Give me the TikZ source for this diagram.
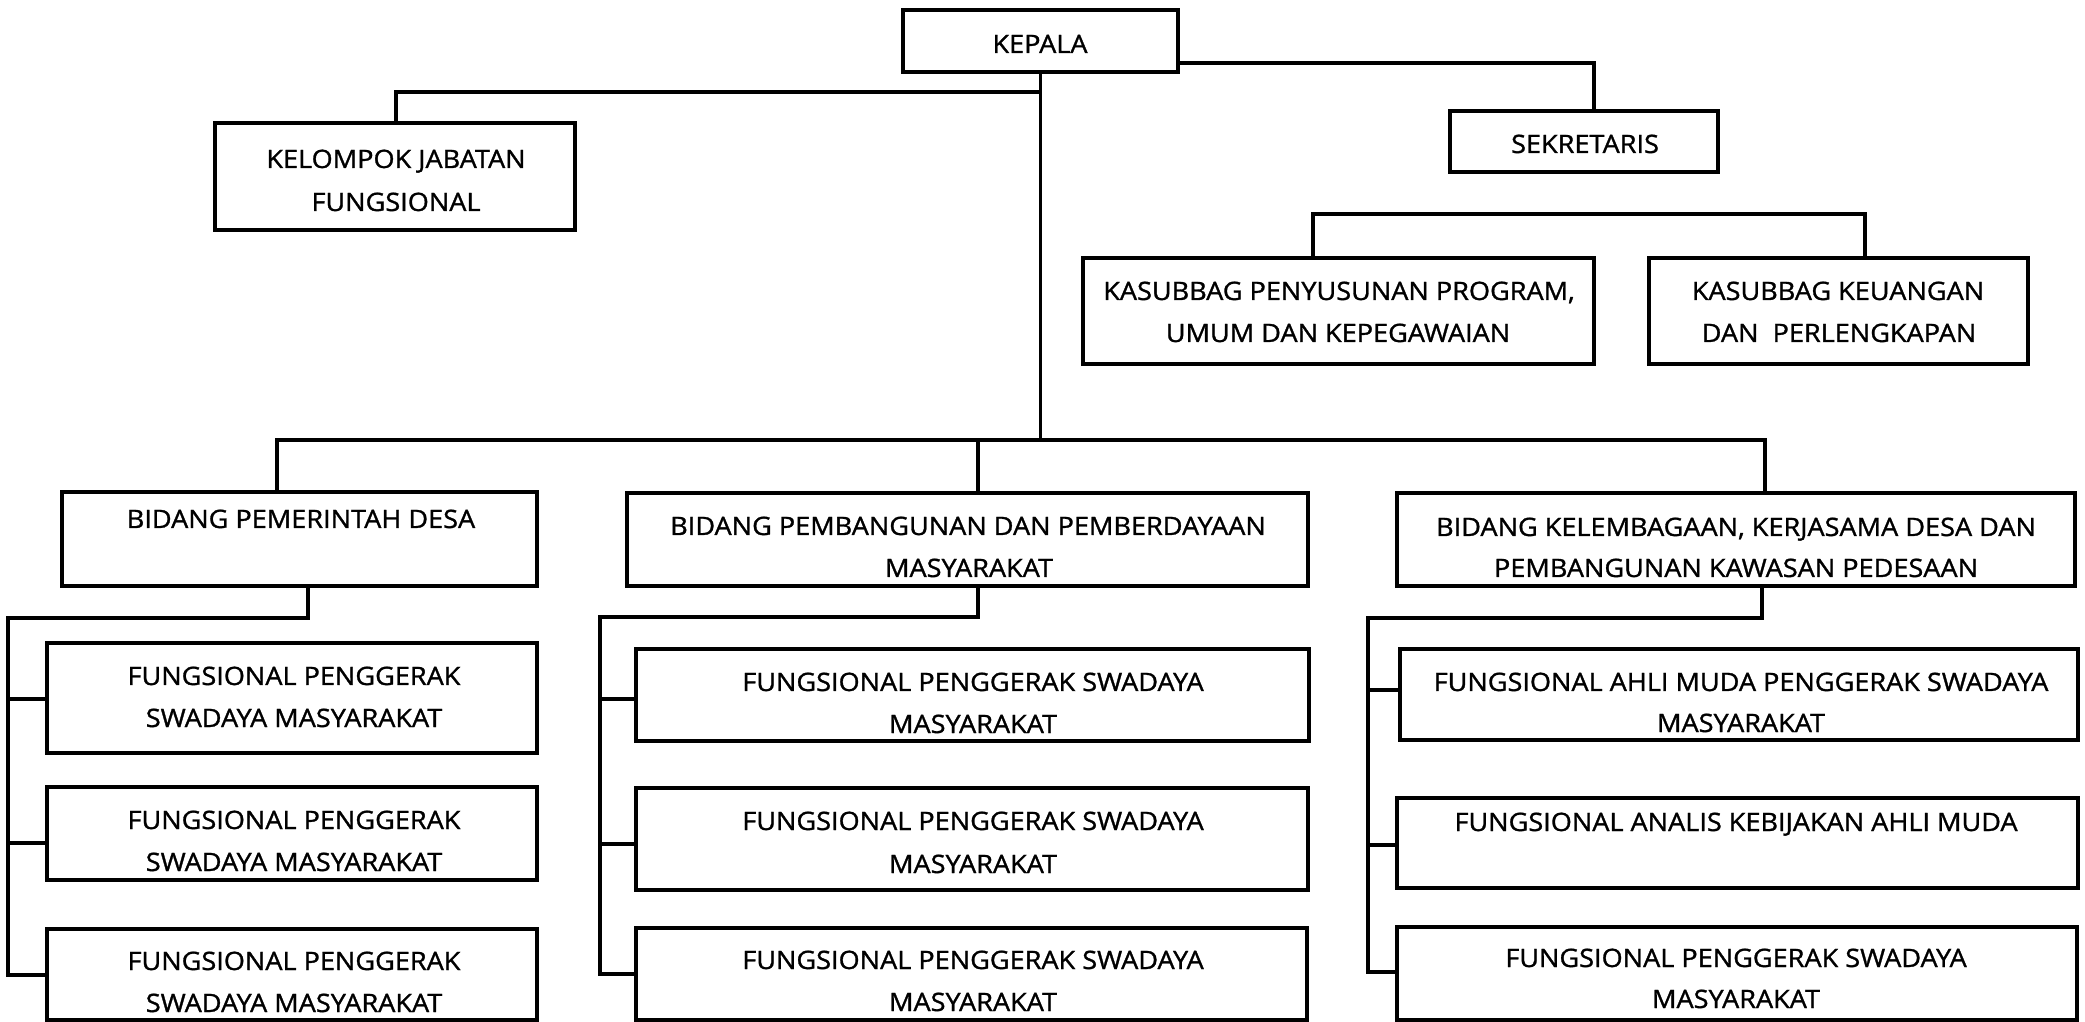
\documentclass[tikz,border=0pt]{standalone}
\usepackage{fontspec}
\setmainfont{Open Sans}[FakeStretch=1.07, FakeBold=1.2]
\tikzset{
  orgbox/.style={draw, line width=0.9pt, rectangle, inner sep=0pt, outer sep=0pt},
  lbl/.style={anchor=base, inner sep=0pt, font=\fontsize{7.2}{8}\selectfont},
  conn/.style={line width=0.9pt}
}
\newcommand\obox[5]{\node[orgbox, minimum width={(#4-#2)*0.01cm}, minimum height={(#5-#3)*0.01cm}] (#1) at ({(#2+#4)/2},{(#3+#5)/2}) {};}
\newcommand\tl[4]{\node[lbl] (#1) at (#2,#3) {#4};}
\begin{document}
\begin{tikzpicture}[x=0.01cm, y=-0.01cm]
\useasboundingbox (0,0) rectangle (2085,1022);
\fill[white] (0,0) rectangle (2085,1022);
% boxes
\obox{kepala}{903}{10}{1178}{72}
\obox{kjf}{215}{123}{575}{230}
\obox{sek}{1450}{111}{1718}{172}
\obox{ksp}{1083}{258}{1594}{364}
\obox{ksk}{1649}{258}{2028}{364}
\obox{bpd}{62}{492}{537}{586}
\obox{bpm}{627}{493}{1308}{586}
\obox{bkd}{1397}{493}{2075}{586}
\obox{fa}{47}{643}{537}{753}
\obox{fb}{47}{787}{537}{880}
\obox{fc}{47}{929}{537}{1020}
\obox{fd}{636}{649}{1309}{741}
\obox{fe}{636}{788}{1308}{890}
\obox{ff}{636}{928}{1307}{1020}
\obox{fg}{1400}{649}{2078}{740}
\obox{fh}{1397}{798}{2078}{888}
\obox{fi}{1397}{927}{2077}{1020}
% texts
\tl{t1}{1040}{53}{KEPALA}
\tl{t2}{396}{168}{KELOMPOK JABATAN}
\tl{t3}{396}{211}{FUNGSIONAL}
\tl{t4}{1585}{153}{SEKRETARIS}
\tl{t5}{1339}{300}{KASUBBAG PENYUSUNAN PROGRAM,}
\tl{t6}{1338}{342}{UMUM DAN KEPEGAWAIAN}
\tl{t7}{1838}{300}{KASUBBAG KEUANGAN}
\tl{t8}{1839}{342}{DAN\ \ PERLENGKAPAN}
\tl{t9}{301}{528}{BIDANG PEMERINTAH DESA}
\tl{t10}{968}{535}{BIDANG PEMBANGUNAN DAN PEMBERDAYAAN}
\tl{t11}{969}{577}{MASYARAKAT}
\tl{t12}{1736}{536}{BIDANG KELEMBAGAAN, KERJASAMA DESA DAN}
\tl{t13}{1736}{577}{PEMBANGUNAN KAWASAN PEDESAAN}
\tl{t14}{294}{685}{FUNGSIONAL PENGGERAK}
\tl{t15}{294}{727}{SWADAYA MASYARAKAT}
\tl{t16}{294}{829}{FUNGSIONAL PENGGERAK}
\tl{t17}{294}{871}{SWADAYA MASYARAKAT}
\tl{t18}{294}{970}{FUNGSIONAL PENGGERAK}
\tl{t19}{294}{1012}{SWADAYA MASYARAKAT}
\tl{t20}{973}{691}{FUNGSIONAL PENGGERAK SWADAYA}
\tl{t21}{973}{733}{MASYARAKAT}
\tl{t22}{973}{830}{FUNGSIONAL PENGGERAK SWADAYA}
\tl{t23}{973}{873}{MASYARAKAT}
\tl{t24}{973}{969}{FUNGSIONAL PENGGERAK SWADAYA}
\tl{t25}{973}{1011}{MASYARAKAT}
\tl{t26}{1741}{691}{FUNGSIONAL AHLI MUDA PENGGERAK SWADAYA}
\tl{t27}{1741}{732}{MASYARAKAT}
\tl{t28}{1736}{831}{FUNGSIONAL ANALIS KEBIJAKAN AHLI MUDA}
\tl{t29}{1736}{967}{FUNGSIONAL PENGGERAK SWADAYA}
\tl{t30}{1736}{1008}{MASYARAKAT}
% junction coordinates
\coordinate (busL) at (277,440);
\coordinate (busM) at (978,440);
\coordinate (busR) at (1765,440);
\coordinate (kjfbar) at (396,92);
\coordinate (sekbar) at (1594,63);
\coordinate (ksL) at (1313,214);
\coordinate (ksR) at (1865,214);
\coordinate (c1top) at (308,618);
\coordinate (c1L) at (8,618);
\coordinate (c2top) at (978,617);
\coordinate (c2L) at (600,617);
\coordinate (c3top) at (1762,618);
\coordinate (c3L) at (1368,618);
% connectors
\draw[conn] (kepala.south) -- (kepala.south |- busL);
\draw[conn] (kjf.north -| kjfbar) -- (kjfbar) -- (kjfbar -| kepala.south);
\draw[conn] (kepala.east |- sekbar) -- (sekbar) -- (sekbar |- sek.north);
\draw[conn] (ksp.north -| ksL) -- (ksL) -- (ksR) -- (ksR |- ksk.north);
\draw[conn] (bpd.north -| busL) -- (busL) -- (busR) -- (busR |- bkd.north);
\draw[conn] (busM) -- (busM |- bpm.north);
% column 1
\draw[conn] (bpd.south -| c1top) -- (c1top) -- (c1L) -- (c1L |- 0,975) -- (fc.west |- 0,975);
\draw[conn] (c1L |- 0,699) -- (fa.west |- 0,699);
\draw[conn] (c1L |- 0,843) -- (fb.west |- 0,843);
% column 2
\draw[conn] (bpm.south -| c2top) -- (c2top) -- (c2L) -- (c2L |- 0,974) -- (ff.west |- 0,974);
\draw[conn] (c2L |- 0,699) -- (fd.west |- 0,699);
\draw[conn] (c2L |- 0,844) -- (fe.west |- 0,844);
% column 3
\draw[conn] (bkd.south -| c3top) -- (c3top) -- (c3L) -- (c3L |- 0,972) -- (fi.west |- 0,972);
\draw[conn] (c3L |- 0,690) -- (fg.west |- 0,690);
\draw[conn] (c3L |- 0,845) -- (fh.west |- 0,845);
\end{tikzpicture}
\end{document}
